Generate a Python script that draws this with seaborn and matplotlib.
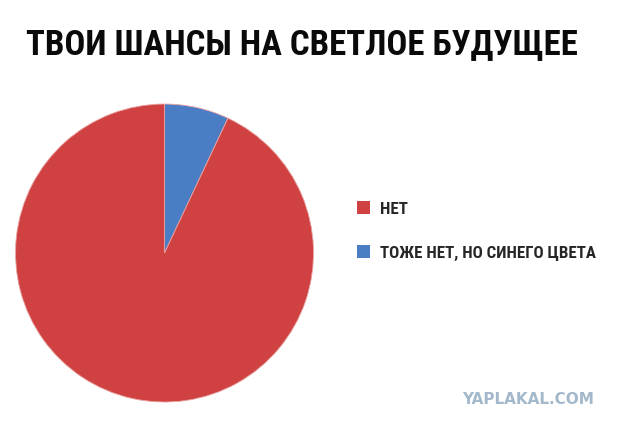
import matplotlib
matplotlib.use("Agg")
import matplotlib.pyplot as plt
from matplotlib import font_manager
from matplotlib.patches import Patch
import seaborn as sns

# Data
labels = ["НЕТ", "ТОЖЕ НЕТ, НО СИНЕГО ЦВЕТА"]
values = [93, 7]
colors = ["#d04241", "#4a7dc4"]
title = "ТВОИ ШАНСЫ НА СВЕТЛОЕ БУДУЩЕЕ"
watermark = "YAPLAKAL.COM"

sns.set_theme(style="white")
names = {f.name for f in font_manager.fontManager.ttflist}
narrow = None
for cand in ["Liberation Sans Narrow", "DejaVu Sans Condensed", "Roboto Condensed", "Open Sans Condensed"]:
    if cand in names:
        narrow = cand
        break
if narrow is None:
    narrow = "Liberation Sans"
plt.rcParams["font.family"] = [narrow, "DejaVu Sans"]

fig = plt.figure(figsize=(6.21, 4.29), dpi=100)
fig.patch.set_facecolor("white")

ax = fig.add_axes([0.02496, 0.0629, 0.4799, 0.6946])
# draw blue first clockwise from 12 o'clock
wedges, _ = ax.pie([values[1], values[0]], colors=[colors[1], colors[0]],
                   startangle=90, counterclock=False, radius=1,
                   wedgeprops=dict(edgecolor="#e9a3a3", linewidth=0.6))
ax.set_xlim(-1, 1)
ax.set_ylim(-1, 1)
ax.set_aspect("equal")
ax.axis("off")

fig.text(302 / 621, 1 - 45 / 429, title, ha="center", va="center",
         fontsize=25, fontweight="bold", color="#0a0a0a")

handles = [Patch(facecolor=c, edgecolor="none") for c in colors]
fig.legend(handles, labels, loc="center left", bbox_to_anchor=(357 / 621, 1 - 231 / 429),
           frameon=False, prop=dict(weight="bold", size=12.2),
           handlelength=0.76, handleheight=0.76, handletextpad=0.58,
           labelspacing=1.7, borderpad=0, borderaxespad=0)

fig.text(594 / 621, 1 - 399 / 429, watermark, ha="right", va="center",
         fontsize=11, fontweight="bold", color="#a3b8cb", family="DejaVu Sans")

fig.savefig("out.png", dpi=100, facecolor="white")
